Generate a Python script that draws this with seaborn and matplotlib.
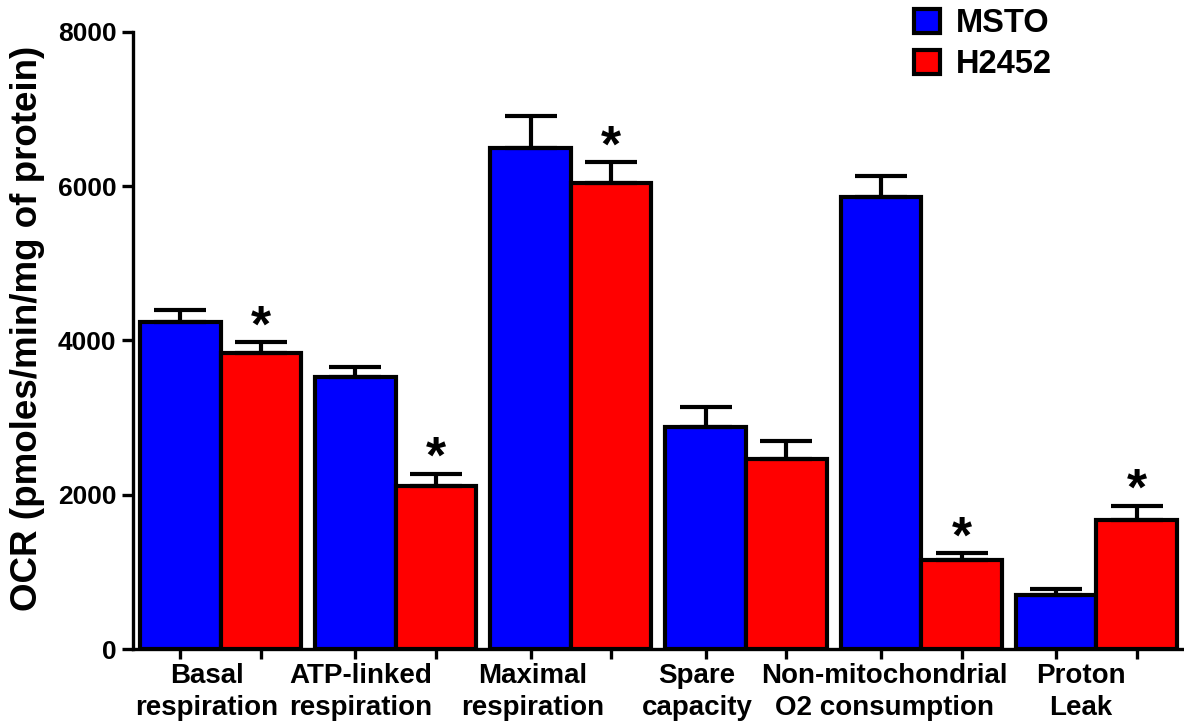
import matplotlib
matplotlib.use('Agg')
import matplotlib.pyplot as plt
import pandas as pd
import seaborn as sns

# values (OCR, pmoles/min/mg of protein)
categories = ['Basal\nrespiration', 'ATP-linked\nrespiration', 'Maximal\nrespiration',
              'Spare\ncapacity', 'Non-mitochondrial\nO2 consumption', 'Proton\nLeak']
msto_mean = [4240, 3530, 6500, 2880, 5865, 700]
msto_sem = [150, 125, 410, 260, 270, 80]
h2452_mean = [3840, 2115, 6045, 2465, 1155, 1675]
h2452_sem = [135, 160, 270, 230, 90, 185]
h2452_signif = [True, True, True, False, True, True]
groups = ['MSTO', 'H2452']
colors = {'MSTO': '#0000FF', 'H2452': '#FF0000'}

# category labels sit a little left of the group centres in the original
label_shift = [-0.08, -0.2, -0.22, -0.28, -0.21, -0.09]

df = pd.DataFrame({
    'category': categories * 2,
    'group': ['MSTO'] * len(categories) + ['H2452'] * len(categories),
    'ocr': msto_mean + h2452_mean,
})

sns.set_style('ticks')
plt.rcParams['font.family'] = ['Liberation Sans', 'DejaVu Sans']
plt.rcParams['font.weight'] = 'bold'
for key in ['text.color', 'axes.labelcolor', 'xtick.color', 'ytick.color', 'axes.edgecolor']:
    plt.rcParams[key] = 'black'

fig = plt.figure(figsize=(11.84, 7.25), dpi=100)
ax = fig.add_axes([0.1123, 0.1048, 0.8877, 0.8511])

sns.barplot(data=df, x='category', y='ocr', hue='group', hue_order=groups,
            palette=colors, errorbar=None, width=0.92, edgecolor='black',
            linewidth=3.0, saturation=1, ax=ax)

# upward-only error bars and significance stars
sems = {'MSTO': msto_sem, 'H2452': h2452_sem}
means = {'MSTO': msto_mean, 'H2452': h2452_mean}
bar_centers = []
for cont, g in zip(ax.containers, groups):
    xs = [b.get_x() + b.get_width() / 2 for b in cont]
    bar_centers += xs
    ax.errorbar(xs, means[g], yerr=[[0] * len(xs), sems[g]], fmt='none',
                ecolor='black', elinewidth=3.0, capsize=19, capthick=3.0, zorder=1)
    if g == 'H2452':
        for x, m, s, sig in zip(xs, means[g], sems[g], h2452_signif):
            if sig:
                ax.annotate('*', (x, m + s), xytext=(0, -7.5), textcoords='offset points',
                            ha='center', va='bottom', fontsize=37, fontweight='bold')

ax.set_xlim(-0.5, 5.5)
ax.set_ylim(0, 8000)
ax.set_yticks([0, 2000, 4000, 6000, 8000])
ax.set_xticks([i + d for i, d in enumerate(label_shift)])
ax.set_xticklabels(categories, fontsize=20, fontweight='bold', linespacing=1.3)
ax.tick_params(axis='x', which='major', length=0, pad=10)
ax.set_xticks(bar_centers, minor=True)
ax.tick_params(axis='x', which='minor', length=7, width=2.4, color='black')
ax.tick_params(axis='y', length=8, width=2.4, labelsize=19, color='black', pad=4)
for lab in ax.get_yticklabels():
    lab.set_fontweight('bold')
ax.set_xlabel('')
ax.set_ylabel('OCR (pmoles/min/mg of protein)', fontsize=26.5, fontweight='bold')
ax.yaxis.set_label_coords(-0.084, 0.519)

for side in ['top', 'right']:
    ax.spines[side].set_visible(False)
for side in ['left', 'bottom']:
    ax.spines[side].set_linewidth(2.4)
    ax.spines[side].set_color('black')

handles, labels = ax.get_legend_handles_labels()
ax.legend(handles, labels, loc='upper left', bbox_to_anchor=(0.747, 1.029),
          bbox_transform=fig.transFigure, frameon=False,
          handlelength=0.8, handleheight=0.75, handletextpad=0.5, labelspacing=0.3,
          prop={'weight': 'bold', 'size': 23.5})

fig.savefig('out.png', dpi=100, facecolor='white')
